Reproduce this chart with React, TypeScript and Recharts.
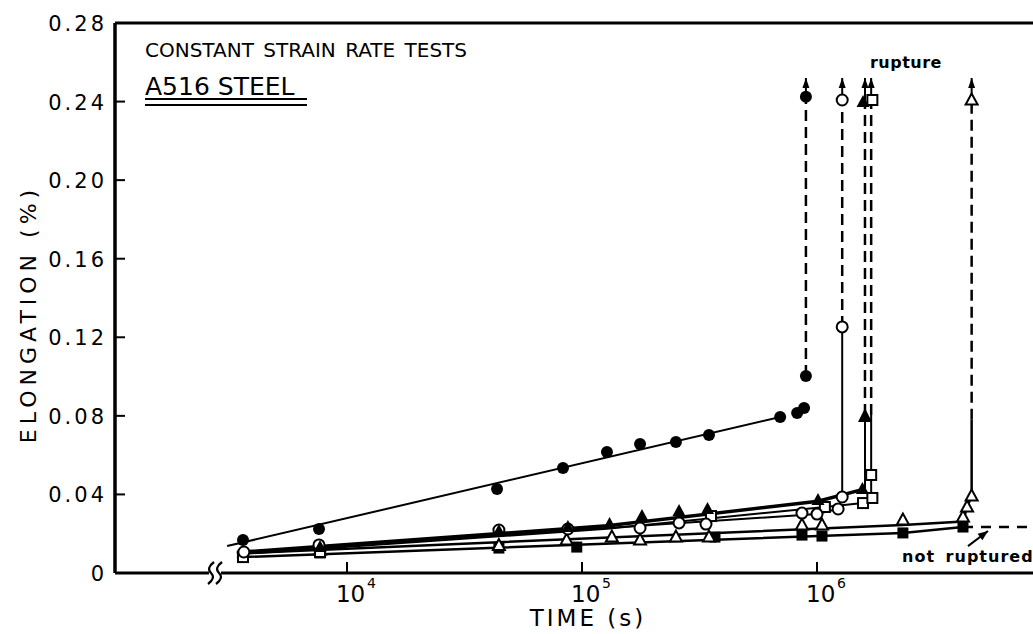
import React from 'react';
import { ComposedChart, Line, Scatter, XAxis, YAxis, ReferenceDot, ReferenceLine } from 'recharts';

type Row = [number, number];
type Pt = { t: number; v: number };

// ---------- axes ----------
const T_MIN = 1030;
const T_MAX = 8.3e6;
const V_MAX = 0.28;
const X_TICKS = [1e4, 1e5, 1e6];
const X_TICK_BASES = ['10', '10', '10'];
const X_TICK_EXPONENTS = ['4', '5', '6'];
const Y_TICKS = [0, 0.04, 0.08, 0.12, 0.16, 0.2, 0.24, 0.28];
const Y_TICK_LABELS = ['0', '0.04', '0.08', '0.12', '0.16', '0.20', '0.24', '0.28'];
const AXIS_BREAK_LEFT = 2586;
const AXIS_BREAK_RIGHT = 2910;
const AXIS_BREAK_AT: Row = [2744, 0];

// ---------- filled circles ----------
const filledCircles: Row[] = [
  [3610, 0.0168], [7600, 0.0224], [43500, 0.0428], [83000, 0.0535], [127700, 0.0616],
  [176600, 0.0657], [251000, 0.0667], [347000, 0.0703], [697000, 0.0794], [823000, 0.0815],
  [881000, 0.084], [897000, 0.1003], [897000, 0.2424],
];
const filledCircleFit: Row[] = [[3090, 0.0137], [697000, 0.0794]];
const filledCircleRupture: Row[] = [[897000, 0.1003], [897000, 0.2424]];

// ---------- open circles ----------
const openCircles: Row[] = [
  [3640, 0.0107], [7600, 0.0143], [44300, 0.0219], [87100, 0.0224], [176600, 0.0229],
  [258800, 0.0255], [337000, 0.0249], [863000, 0.0305], [1.0e6, 0.03], [1.23e6, 0.0326],
  [1.28e6, 0.0387], [1.28e6, 0.1253], [1.28e6, 0.2408],
];
const openCircleLine: Row[] = [[3400, 0.0105], [1.0e6, 0.03], [1.23e6, 0.0326], [1.28e6, 0.0387], [1.28e6, 0.1253]];
const openCircleRupture: Row[] = [[1.28e6, 0.1253], [1.28e6, 0.2408]];

// ---------- filled triangles ----------
const filledTriangles: Row[] = [
  [7680, 0.0132], [44300, 0.0214], [87100, 0.0234], [131000, 0.0249], [180000, 0.029],
  [258800, 0.0316], [342000, 0.0326], [1.01e6, 0.0372], [1.56e6, 0.0428], [1.57e6, 0.2398],
];
const filledTriangleLine: Row[] = [[3400, 0.0105], [128000, 0.024], [1.01e6, 0.0365], [1.6e6, 0.0428]];
const filledTriangleRise: Row[] = [[1.6e6, 0.0428], [1.6e6, 0.0804]];
const filledTriangleHead: Row[] = [[1.6e6, 0.0804]];
const filledTriangleRupture: Row[] = [[1.6e6, 0.0804], [1.6e6, 0.2398]];

// ---------- open squares ----------
const openSquares: Row[] = [
  [3610, 0.0081], [7680, 0.0107], [354000, 0.029], [1.08e6, 0.0336], [1.57e6, 0.0356],
  [1.72e6, 0.0382], [1.7e6, 0.0499], [1.72e6, 0.2408],
];
const openSquareLine: Row[] = [[3400, 0.0095], [128000, 0.0225], [1.08e6, 0.0336], [1.57e6, 0.0356], [1.7e6, 0.0382], [1.7e6, 0.0804]];
const openSquareRupture: Row[] = [[1.7e6, 0.0804], [1.7e6, 0.2408]];

// ---------- open triangles ----------
const openTriangles: Row[] = [
  [7680, 0.0117], [44300, 0.014], [86000, 0.0168], [134000, 0.0183], [176600, 0.0168],
  [251000, 0.0183], [347000, 0.0183], [863000, 0.0244], [1.05e6, 0.0244], [2.32e6, 0.027],
  [4.18e6, 0.0285], [4.35e6, 0.0336], [4.55e6, 0.0392], [4.55e6, 0.2408],
];
const openTriangleLine: Row[] = [[3400, 0.01], [2.32e6, 0.0244], [4.18e6, 0.0262], [4.35e6, 0.0336], [4.55e6, 0.0392], [4.55e6, 0.078]];
const openTriangleRupture: Row[] = [[4.55e6, 0.078], [4.55e6, 0.2408]];

// ---------- filled squares ----------
const filledSquares: Row[] = [
  [3610, 0.0087], [7680, 0.0102], [44300, 0.0127], [95000, 0.0132], [368000, 0.0183],
  [863000, 0.0193], [1.05e6, 0.0188], [2.32e6, 0.0204], [4.18e6, 0.0234],
];
const filledSquareLine: Row[] = [[3400, 0.008], [2.32e6, 0.0204], [4.18e6, 0.0234]];
const notRupturedLine: Row[] = [[4.18e6, 0.0234], [T_MAX, 0.0234]];

// ---------- rupture arrows ----------
const RUPTURE_LEVEL = 0.2408;
const ARROW_TIP = 0.252;
const ruptureArrowTimes = [897000, 1.28e6, 1.6e6, 1.7e6, 4.55e6];

// ---------- annotations ----------
const TITLE_AT: Row = [1382, 0.2627];
const SUBTITLE_AT: Row = [1382, 0.2434];
const RUPTURE_LABEL_AT: Row = [1.68e6, 0.2571];
const NOT_RUPTURED_AT: Row = [2.3e6, 0.0056];
const notRupturedArrow: Row[] = [[4.39e6, 0.0137], [5.34e6, 0.0214]];

// ---------- rendering ----------
const toPts = (rows: Row[]): Pt[] => rows.map(([t, v]) => ({ t, v }));
const FONT = "'DejaVu Sans', sans-serif";
const INK = '#000';
const DASH = '11 6';

const Marker = ({ kind, cx, cy }: { kind: string; cx: number; cy: number }) => {
  if (cx == null || cy == null || isNaN(cx) || isNaN(cy)) return <g />;
  switch (kind) {
    case 'filledCircle':
      return <circle cx={cx} cy={cy} r={6} fill={INK} />;
    case 'openCircle':
      return <circle cx={cx} cy={cy} r={5.5} fill="#fff" stroke={INK} strokeWidth={2} />;
    case 'filledTriangle':
      return <polygon points={`${cx},${cy - 7} ${cx - 6.5},${cy + 5} ${cx + 6.5},${cy + 5}`} fill={INK} />;
    case 'openTriangle':
      return <polygon points={`${cx},${cy - 6.5} ${cx - 6},${cy + 4.5} ${cx + 6},${cy + 4.5}`} fill="#fff" stroke={INK} strokeWidth={2} />;
    case 'filledSquare':
      return <rect x={cx - 5.5} y={cy - 5.5} width={11} height={11} fill={INK} />;
    case 'openSquare':
      return <rect x={cx - 5} y={cy - 5} width={10} height={10} fill="#fff" stroke={INK} strokeWidth={2} />;
    case 'arrowTip':
      return <polygon points={`${cx},${cy} ${cx - 3.5},${cy + 10} ${cx + 3.5},${cy + 10}`} fill={INK} />;
    case 'bigArrow':
      return <polygon points={`${cx},${cy - 7} ${cx - 7},${cy + 7} ${cx + 7},${cy + 7}`} fill={INK} />;
    case 'slantArrow':
      return (
        <polygon
          points={`${cx},${cy} ${cx - 4},${cy + 10} ${cx + 4},${cy + 10}`}
          fill={INK}
          transform={`rotate(53 ${cx} ${cy})`}
        />
      );
    default:
      return <g />;
  }
};

const LINES: { rows: Row[]; w: number; dash?: string }[] = [
  { rows: filledCircleFit, w: 2 },
  { rows: filledCircleRupture, w: 2.5, dash: DASH },
  { rows: openCircleLine, w: 2 },
  { rows: openCircleRupture, w: 2.5, dash: DASH },
  { rows: filledTriangleLine, w: 3.5 },
  { rows: filledTriangleRise, w: 2 },
  { rows: filledTriangleRupture, w: 2.5, dash: DASH },
  { rows: openSquareLine, w: 2 },
  { rows: openSquareRupture, w: 2.5, dash: DASH },
  { rows: openTriangleLine, w: 2.5 },
  { rows: openTriangleRupture, w: 2.5, dash: DASH },
  { rows: filledSquareLine, w: 2.5 },
  { rows: notRupturedLine, w: 2.5, dash: '10 8' },
  { rows: notRupturedArrow, w: 2 },
  ...ruptureArrowTimes.map((t) => ({ rows: [[t, RUPTURE_LEVEL], [t, ARROW_TIP]] as Row[], w: 2 })),
];

const MARKERS: { rows: Row[]; kind: string }[] = [
  { rows: filledSquares, kind: 'filledSquare' },
  { rows: openTriangles, kind: 'openTriangle' },
  { rows: openSquares, kind: 'openSquare' },
  { rows: openCircles, kind: 'openCircle' },
  { rows: filledTriangles, kind: 'filledTriangle' },
  { rows: filledCircles, kind: 'filledCircle' },
  { rows: filledTriangleHead, kind: 'bigArrow' },
  { rows: ruptureArrowTimes.map((t) => [t, ARROW_TIP] as Row), kind: 'arrowTip' },
  { rows: [notRupturedArrow[1]], kind: 'slantArrow' },
];

const XTick = (p: any) => {
  const i = X_TICKS.indexOf(p.payload.value);
  return (
    <g>
      <line x1={p.x} x2={p.x} y1={p.y} y2={p.y - 11} stroke={INK} strokeWidth={2} />
      <text x={p.x - 11} y={p.y + 29} fontFamily={FONT} fontSize={23} fill={INK}>
        {X_TICK_BASES[i]}
      </text>
      <text x={p.x + 20} y={p.y + 15} fontFamily={FONT} fontSize={14} fill={INK}>
        {X_TICK_EXPONENTS[i]}
      </text>
    </g>
  );
};

const YTick = (p: any) => {
  const i = Y_TICKS.indexOf(p.payload.value);
  const inner = i > 0 && i < Y_TICKS.length - 1;
  return (
    <g>
      {inner && <line x1={p.x} x2={p.x + 10} y1={p.y} y2={p.y} stroke={INK} strokeWidth={2} />}
      <text x={p.x - 8} y={p.y + 8} textAnchor="end" fontFamily={FONT} fontSize={21} letterSpacing={3} fill={INK}>
        {Y_TICK_LABELS[i]}
      </text>
    </g>
  );
};

const XLabel = () => (
  <text x={588} y={626} textAnchor="middle" fontFamily={FONT} fontSize={23} letterSpacing={3} fill={INK}>
    TIME (s)
  </text>
);

const YLabel = () => (
  <text
    x={36}
    y={314}
    transform="rotate(-90 36 314)"
    textAnchor="middle"
    fontFamily={FONT}
    fontSize={22}
    letterSpacing={5}
    fill={INK}
  >
    ELONGATION (%)
  </text>
);

export default function App() {
  return (
    <div style={{ position: 'absolute', left: 0, top: 0, width: 1033, height: 634, background: '#fff', overflow: 'hidden' }}>
      <ComposedChart width={1033} height={634} margin={{ top: 23, right: 0, bottom: 21, left: 55 }}>
        <XAxis
          dataKey="t"
          type="number"
          scale="log"
          domain={[T_MIN, T_MAX]}
          allowDataOverflow
          ticks={X_TICKS}
          interval={0}
          tickSize={0}
          tickMargin={0}
          tickLine={false}
          axisLine={false}
          height={40}
          tick={XTick}
          label={XLabel}
        />
        <YAxis
          dataKey="v"
          type="number"
          domain={[0, V_MAX]}
          allowDataOverflow
          ticks={Y_TICKS}
          interval={0}
          tickSize={0}
          tickMargin={0}
          tickLine={false}
          axisLine={{ stroke: INK, strokeWidth: 3.5 }}
          width={60}
          tick={YTick}
          label={YLabel}
        />
        <ReferenceLine y={V_MAX} stroke={INK} strokeWidth={3} />
        <ReferenceLine segment={[{ x: T_MIN, y: 0 }, { x: AXIS_BREAK_LEFT, y: 0 }]} stroke={INK} strokeWidth={3} />
        <ReferenceLine segment={[{ x: AXIS_BREAK_RIGHT, y: 0 }, { x: T_MAX, y: 0 }]} stroke={INK} strokeWidth={3} />
        <ReferenceDot
          x={AXIS_BREAK_AT[0]}
          y={AXIS_BREAK_AT[1]}
          r={0}
          ifOverflow="visible"
          shape={(p: any) => {
            const { cx, cy } = p;
            const s = (x0: number) =>
              `M ${x0 + 3} ${cy - 11} Q ${x0 - 5} ${cy - 5} ${x0} ${cy} Q ${x0 + 5} ${cy + 5} ${x0 - 3} ${cy + 11}`;
            return (
              <g>
                <path d={s(cx - 4)} stroke={INK} strokeWidth={2.2} fill="none" />
                <path d={s(cx + 4)} stroke={INK} strokeWidth={2.2} fill="none" />
              </g>
            );
          }}
        />

        {LINES.map((l, i) => (
          <Line
            key={`l${i}`}
            data={toPts(l.rows)}
            dataKey="v"
            type="linear"
            stroke={INK}
            strokeWidth={l.w}
            strokeDasharray={l.dash}
            dot={false}
            activeDot={false}
            legendType="none"
            isAnimationActive={false}
          />
        ))}
        {MARKERS.map((m, i) => (
          <Scatter
            key={`m${i}`}
            data={toPts(m.rows)}
            dataKey="v"
            legendType="none"
            isAnimationActive={false}
            shape={(p: any) => <Marker kind={m.kind} cx={p.cx} cy={p.cy} />}
          />
        ))}

        <ReferenceDot
          x={TITLE_AT[0]}
          y={TITLE_AT[1]}
          r={0}
          ifOverflow="visible"
          shape={(p: any) => (
            <text x={p.cx} y={p.cy} fontFamily={FONT} fontSize={20} wordSpacing={3} fill={INK}>
              CONSTANT STRAIN RATE TESTS
            </text>
          )}
        />
        <ReferenceDot
          x={SUBTITLE_AT[0]}
          y={SUBTITLE_AT[1]}
          r={0}
          ifOverflow="visible"
          shape={(p: any) => (
            <g>
              <text x={p.cx} y={p.cy} fontFamily={FONT} fontSize={25} fill={INK}>
                A516 STEEL
              </text>
              <line x1={p.cx} x2={p.cx + 162} y1={p.cy + 4} y2={p.cy + 4} stroke={INK} strokeWidth={2} />
              <line x1={p.cx} x2={p.cx + 162} y1={p.cy + 10} y2={p.cy + 10} stroke={INK} strokeWidth={2} />
            </g>
          )}
        />
        <ReferenceDot
          x={RUPTURE_LABEL_AT[0]}
          y={RUPTURE_LABEL_AT[1]}
          r={0}
          ifOverflow="visible"
          shape={(p: any) => (
            <text x={p.cx} y={p.cy} fontFamily={FONT} fontSize={16} fontWeight="bold" letterSpacing={0.5} fill={INK}>
              rupture
            </text>
          )}
        />
        <ReferenceDot
          x={NOT_RUPTURED_AT[0]}
          y={NOT_RUPTURED_AT[1]}
          r={0}
          ifOverflow="visible"
          shape={(p: any) => (
            <text x={p.cx} y={p.cy} fontFamily={FONT} fontSize={16} fontWeight="bold" letterSpacing={1} wordSpacing={4} fill={INK}>
              not ruptured
            </text>
          )}
        />
      </ComposedChart>
    </div>
  );
}
